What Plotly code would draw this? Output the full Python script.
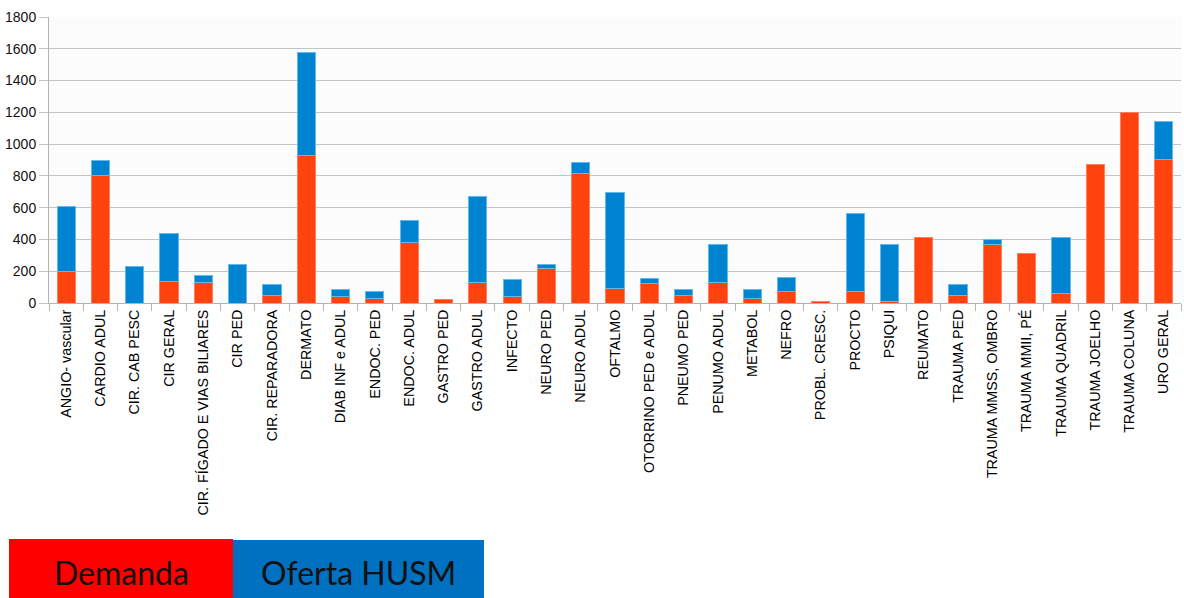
import plotly.graph_objects as go

categories = [
    "ANGIO- vascular", "CARDIO ADUL", "CIR. CAB PESC", "CIR GERAL",
    "CIR. FÍGADO E VIAS BILIARES", "CIR PED", "CIR. REPARADORA", "DERMATO",
    "DIAB INF e ADUL", "ENDOC. PED", "ENDOC. ADUL", "GASTRO PED", "GASTRO ADUL",
    "INFECTO", "NEURO PED", "NEURO ADUL", "OFTALMO", "OTORRINO PED e ADUL",
    "PNEUMO PED", "PENUMO ADUL", "METABOL", "NEFRO", "PROBL. CRESC.", "PROCTO",
    "PSIQUI", "REUMATO", "TRAUMA PED", "TRAUMA MMSS, OMBRO", "TRAUMA MMII, PÉ",
    "TRAUMA QUADRIL", "TRAUMA JOELHO", "TRAUMA COLUNA", "URO GERAL",
]

demanda = [200, 800, 0, 135, 128, 0, 50, 930,
           38, 29, 382, 23, 126,
           38, 216, 818, 90, 120,
           50, 126, 30, 71, 8, 75,
           8, 415, 48, 367, 313,
           57, 869, 1200, 902]

oferta_husm = [410, 95, 230, 300, 46, 243, 67, 644,
               46, 46, 138, 0, 545,
               109, 27, 69, 604, 33,
               34, 243, 54, 91, 0, 487,
               361, 0, 69, 32, 0,
               358, 0, 0, 241]

series_names = ["Demanda", "Oferta HUSM"]
y_ticks = [0, 200, 400, 600, 800, 1000, 1200, 1400, 1600, 1800]

W, H = 1184, 598
L, R, T, B = 49, 1181, 17, 303  # plot area pixel bounds


def px_x(p):
    return (p - L) / (R - L)


def px_y(p):
    return (B - p) / (B - T)


def outline_widths(vals):
    return [1 if v > 0 else 0 for v in vals]


fig = go.Figure()
fig.add_trace(go.Bar(
    x=categories, y=demanda, name=series_names[0],
    marker=dict(color="#FF420E",
                line=dict(color="#FF7F5C", width=outline_widths(demanda))),
))
fig.add_trace(go.Bar(
    x=categories, y=oferta_husm, name=series_names[1],
    marker=dict(color="#0084D1",
                line=dict(color="#66B8E8", width=outline_widths(oferta_husm))),
))

fig.update_layout(
    barmode="stack",
    bargap=0.47,
    width=W, height=H,
    margin=dict(l=L, r=W - R, t=T, b=H - B, pad=0),
    paper_bgcolor="white",
    plot_bgcolor="#FCFCFC",
    showlegend=False,
    font=dict(family="Liberation Sans, Arial, sans-serif", size=14, color="#111111"),
    xaxis=dict(
        type="category",
        tickangle=-90,
        ticks="outside", ticklen=7, tickcolor="#B3B3B3", tickson="boundaries",
        showline=True, linecolor="#B3B3B3", linewidth=1,
        showgrid=False,
        tickfont=dict(size=14.3, color="#000000"),
        range=[-0.5, len(categories) - 0.5],
    ),
    yaxis=dict(
        range=[0, 1800],
        tickvals=y_ticks,
        ticks="outside", ticklen=9, tickcolor="#C0C0C0",
        showgrid=True, gridcolor="#C4C4C4", gridwidth=1.3,
        showline=True, linecolor="#B3B3B3", linewidth=1,
        zeroline=False,
        tickfont=dict(size=14, color="#111111"),
    ),
)

# Custom legend blocks at bottom-left
legend_boxes = [
    (9, 233, 539, "#FF0000", series_names[0]),
    (233, 484, 540, "#0070C0", series_names[1]),
]
for x0, x1, y0, col, label in legend_boxes:
    fig.add_shape(type="rect", xref="paper", yref="paper",
                  x0=px_x(x0), x1=px_x(x1), y0=px_y(y0), y1=px_y(H),
                  fillcolor=col, line=dict(width=0), layer="above")
    fig.add_annotation(xref="paper", yref="paper",
                       x=px_x((x0 + x1) / 2), y=px_y(572),
                       text=label, showarrow=False,
                       xanchor="center", yanchor="middle",
                       font=dict(family="Lato, Open Sans, sans-serif", size=32, color="#111111"))

fig.write_html("out.html")
